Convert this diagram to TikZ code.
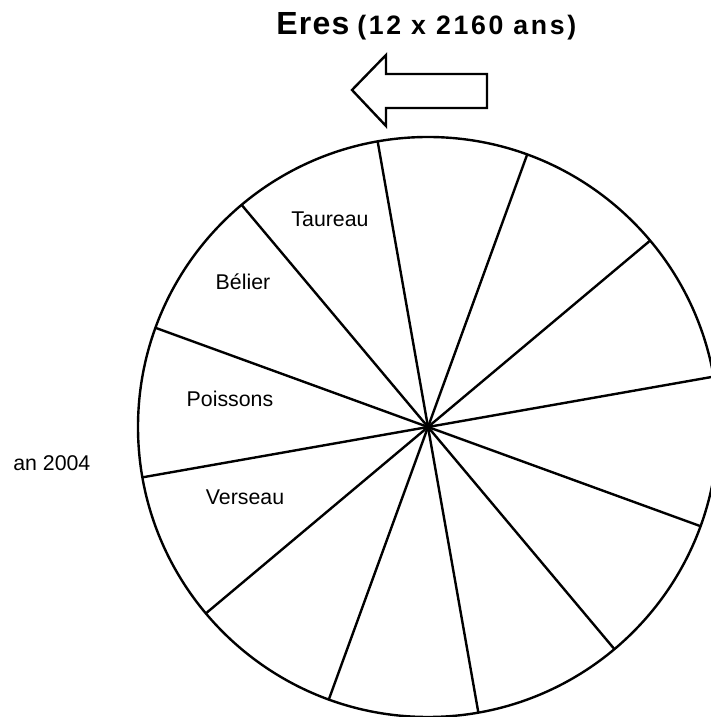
\documentclass[tikz,border=0pt]{standalone}
\usepackage{fontspec}
\setmainfont{Liberation Sans}
\usetikzlibrary{calc}
\tikzset{
  zodiac/.style={font=\fontsize{16}{18}\selectfont, inner sep=0pt, anchor=base},
  titre/.style={font=\fontsize{24}{28}\selectfont\bfseries\addfontfeatures{LetterSpace=4}, inner sep=0pt, anchor=base west},
  duree/.style={font=\fontsize{20}{22}\selectfont\bfseries\addfontfeatures{LetterSpace=10}, inner sep=0pt, anchor=base west},
  rim/.style={line width=1.8pt},
  spoke/.style={line width=1.8pt},
  erearrow/.style={draw, line width=1.8pt, line join=miter}
}

\begin{document}
\begin{tikzpicture}[x=0.75pt, y=0.75pt]
\useasboundingbox (0,0) rectangle (710,717);
% title
\node[titre] (eres) at (276,682) {Eres};
\node[duree] (cycle) at (357,682) {(12 x 2160 ans)};
% direction of the eras
\draw[erearrow] (352,627) -- (386,662) -- (386,643) -- (487,643)
  -- (487,609) -- (386,609) -- (386,591) -- cycle;
% wheel
\coordinate (c) at (428,290);
\draw[rim] (c) circle (290);
\foreach \k in {0,...,11}{
  \coordinate (s\k) at ($(c)+({100-30*\k}:290)$);
  \draw[spoke] (c) -- (s\k);
}
% signs
\node[zodiac] (taureau) at (330,490) {Taureau};
\node[zodiac] (belier) at (243,427) {Bélier};
\node[zodiac] (poissons) at (230,310) {Poissons};
\node[zodiac] (verseau) at (245,212) {Verseau};
\node[zodiac, anchor=base west] (an) at (13,246) {an 2004};
\end{tikzpicture}
\end{document}
